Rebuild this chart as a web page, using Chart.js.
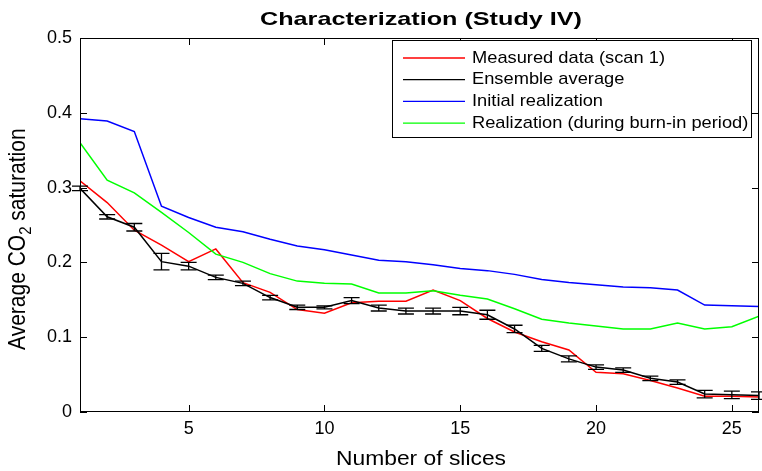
<!DOCTYPE html>
<html>
<head>
<meta charset="utf-8">
<title>Characterization (Study IV)</title>
<script src="https://cdn.jsdelivr.net/npm/chart.js@4.4.1/dist/chart.umd.min.js"></script>
<style>
  html, body { margin: 0; padding: 0; background: #fff; }
  canvas { display: block; }
</style>
</head>
<body>
<canvas id="satChart" width="762" height="471"></canvas>
<script>
// slice index 1..26
const slices = [1, 2, 3, 4, 5, 6, 7, 8, 9, 10, 11, 12, 13, 14, 15, 16, 17, 18, 19, 20, 21, 22, 23, 24, 25, 26];

const measured = [0.309, 0.280, 0.243, 0.223, 0.201, 0.218, 0.173, 0.160, 0.137, 0.132, 0.146, 0.148, 0.148,
  0.163, 0.149, 0.125, 0.107, 0.094, 0.083, 0.053, 0.051, 0.042, 0.032, 0.021, 0.021, 0.020];

const ensemble = [0.299, 0.261, 0.247, 0.201, 0.195, 0.180, 0.172, 0.153, 0.140, 0.140, 0.149, 0.139, 0.135,
  0.135, 0.135, 0.130, 0.111, 0.085, 0.071, 0.060, 0.056, 0.045, 0.040, 0.024, 0.023, 0.022];

// half-length of the error bars on the ensemble average
const ensembleErr = [0.003, 0.003, 0.005, 0.011, 0.005, 0.003, 0.003, 0.003, 0.003, 0.002, 0.004, 0.004, 0.004,
  0.004, 0.005, 0.006, 0.005, 0.004, 0.004, 0.003, 0.003, 0.003, 0.003, 0.005, 0.005, 0.005];

const initialReal = [0.392, 0.389, 0.375, 0.275, 0.260, 0.247, 0.241, 0.231, 0.222, 0.217, 0.210, 0.203, 0.201,
  0.197, 0.192, 0.189, 0.184, 0.177, 0.173, 0.170, 0.167, 0.166, 0.163, 0.143, 0.142, 0.141];

const burnIn = [0.360, 0.310, 0.293, 0.267, 0.240, 0.211, 0.200, 0.185, 0.175, 0.172, 0.171, 0.159, 0.159,
  0.162, 0.156, 0.151, 0.138, 0.124, 0.119, 0.115, 0.111, 0.111, 0.119, 0.111, 0.114, 0.128];

const xTicks = [5, 10, 15, 20, 25];
const yTicks = [0, 0.1, 0.2, 0.3, 0.4, 0.5];
const yTickLabels = ["0", "0.1", "0.2", "0.3", "0.4", "0.5"];

const FONT = "'Liberation Sans', Arial, Helvetica, sans-serif";

const toPoints = vals => vals.map((v, i) => ({ x: slices[i], y: v }));

// text squeezed/stretched horizontally to a given width
function fitText(ctx, text, x, y, width, align) {
  const w = ctx.measureText(text).width;
  const sx = width / w;
  ctx.save();
  ctx.translate(x, y);
  ctx.scale(sx, 1);
  ctx.textAlign = align || "center";
  ctx.fillText(text, 0, 0);
  ctx.restore();
}

const framePlugin = {
  id: "frame",
  afterDatasetsDraw(chart) {
    const { ctx, chartArea: a, scales } = chart;
    const ys = scales.y, xs = scales.x;

    // error bars on the ensemble average
    ctx.save();
    ctx.strokeStyle = "#000";
    ctx.lineWidth = 1.3;
    ensemble.forEach((v, i) => {
      const px = xs.getPixelForValue(slices[i]);
      const top = ys.getPixelForValue(v + ensembleErr[i]);
      const bot = ys.getPixelForValue(v - ensembleErr[i]);
      ctx.beginPath();
      ctx.moveTo(px, top); ctx.lineTo(px, bot);
      ctx.moveTo(px - 8, top); ctx.lineTo(px + 8, top);
      ctx.moveTo(px - 8, bot); ctx.lineTo(px + 8, bot);
      ctx.stroke();
    });
    ctx.restore();

    // axes box with inward ticks on all four sides
    ctx.save();
    ctx.strokeStyle = "#000";
    ctx.lineWidth = 1;
    ctx.strokeRect(a.left + 0.5, a.top + 0.5, a.right - a.left - 1, a.bottom - a.top - 1);
    ctx.beginPath();
    xTicks.forEach(v => {
      const px = Math.round(xs.getPixelForValue(v)) + 0.5;
      ctx.moveTo(px, a.bottom); ctx.lineTo(px, a.bottom - 7);
      ctx.moveTo(px, a.top); ctx.lineTo(px, a.top + 7);
    });
    yTicks.forEach(v => {
      const py = Math.round(ys.getPixelForValue(v)) + 0.5;
      ctx.moveTo(a.left, py); ctx.lineTo(a.left + 7, py);
      ctx.moveTo(a.right, py); ctx.lineTo(a.right - 7, py);
    });
    ctx.stroke();
    ctx.restore();
  },
  afterDraw(chart) {
    const { ctx } = chart;
    ctx.save();
    ctx.fillStyle = "#000";
    ctx.textBaseline = "alphabetic";

    // title
    ctx.font = "bold 19px " + FONT;
    fitText(ctx, "Characterization (Study IV)", 421, 25, 322);

    // x axis title
    ctx.font = "20px " + FONT;
    fitText(ctx, "Number of slices", 421, 465, 170);

    // y axis title with subscript, rotated
    ctx.save();
    ctx.translate(25, 350);
    ctx.rotate(-Math.PI / 2);
    ctx.scale(1, 1.15);
    ctx.textAlign = "left";
    ctx.font = "21px " + FONT;
    const part1 = "Average CO";
    ctx.fillText(part1, 0, 0);
    let off = ctx.measureText(part1).width;
    ctx.font = "15px " + FONT;
    ctx.fillText("2", off, 5);
    off += ctx.measureText("2").width;
    ctx.font = "21px " + FONT;
    ctx.fillText(" saturation", off, 0);
    ctx.restore();

    // legend box
    const lx = 392, ly = 40, lw = 360, lh = 98;
    ctx.fillStyle = "#fff";
    ctx.fillRect(lx, ly, lw, lh);
    ctx.strokeStyle = "#000";
    ctx.lineWidth = 1;
    ctx.strokeRect(lx + 0.5, ly + 0.5, lw - 1, lh - 1);
    ctx.font = "17px " + FONT;
    ctx.textBaseline = "middle";
    const sx = 193 / ctx.measureText(chart.data.datasets[0].label).width;
    chart.data.datasets.forEach((ds, i) => {
      const ry = 58 + i * 21.7;
      ctx.strokeStyle = ds.borderColor;
      ctx.lineWidth = 1.3;
      ctx.beginPath();
      ctx.moveTo(403, ry); ctx.lineTo(465, ry);
      ctx.stroke();
      ctx.fillStyle = "#000";
      ctx.save();
      ctx.translate(472, ry);
      ctx.scale(sx, 1);
      ctx.textAlign = "left";
      ctx.fillText(ds.label, 0, 0);
      ctx.restore();
    });
    ctx.restore();
  }
};

new Chart(document.getElementById("satChart").getContext("2d"), {
  type: "line",
  data: {
    datasets: [
      { label: "Measured data (scan 1)", data: toPoints(measured), borderColor: "#ff0000", order: 3 },
      { label: "Ensemble average", data: toPoints(ensemble), borderColor: "#000000", order: 2 },
      { label: "Initial realization", data: toPoints(initialReal), borderColor: "#0000ff", order: 1 },
      { label: "Realization (during burn-in period)", data: toPoints(burnIn), borderColor: "#00ff00", order: 0 }
    ]
  },
  options: {
    responsive: false,
    devicePixelRatio: 1,
    animation: false,
    layout: { padding: { top: 38, right: 3, left: 0, bottom: 0 } },
    elements: {
      line: { borderWidth: 1.5, tension: 0, fill: false },
      point: { radius: 0, hoverRadius: 0 }
    },
    plugins: {
      legend: { display: false },
      title: { display: false },
      tooltip: { enabled: false }
    },
    scales: {
      x: {
        type: "linear",
        min: 1,
        max: 26,
        afterBuildTicks: s => { s.ticks = xTicks.map(v => ({ value: v })); },
        afterFit: s => { s.height = 59; },
        grid: { display: false, drawTicks: false },
        border: { display: false },
        ticks: { color: "#000", padding: 6, maxRotation: 0, autoSkip: false, font: { size: 18, family: FONT } }
      },
      y: {
        min: 0,
        max: 0.5,
        afterBuildTicks: s => { s.ticks = yTicks.map(v => ({ value: v })); },
        afterFit: s => { s.width = 80; },
        grid: { display: false, drawTicks: false },
        border: { display: false },
        ticks: {
          color: "#000",
          padding: 8,
          font: { size: 18, family: FONT },
          callback: (v, i) => yTickLabels[i]
        }
      }
    }
  },
  plugins: [framePlugin]
});
</script>
</body>
</html>
